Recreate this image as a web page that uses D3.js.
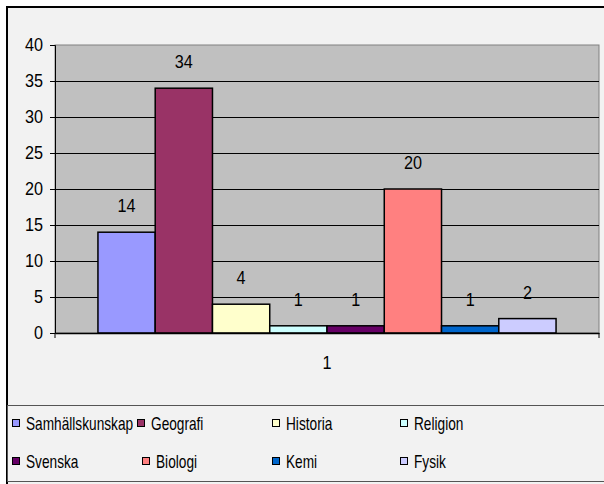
<!DOCTYPE html>
<html>
<head>
<meta charset="utf-8">
<script src="https://cdn.jsdelivr.net/npm/d3@7"></script>
<style>
  body { margin: 0; background: #fff; }
  text { font-family: "Liberation Sans", Arial, sans-serif; fill: #000; }
</style>
</head>
<body>
<div id="chart"></div>
<script>
// data
const subjects = ["Samhällskunskap", "Geografi", "Historia", "Religion", "Svenska", "Biologi", "Kemi", "Fysik"];
const counts = [14, 34, 4, 1, 1, 20, 1, 2];
const colors = ["#9999ff", "#993366", "#ffffcc", "#ccffff", "#660066", "#ff8080", "#0066cc", "#ccccff"];
const categories = ["1"];
const yTicks = [0, 5, 10, 15, 20, 25, 30, 35, 40];

const W = 604, H = 484;
const FONT = "'Liberation Sans', Arial, sans-serif";
const FS = 18;          // font size
const NUM_SX = 0.9;     // horizontal squeeze for numbers
const LEG_SX = 0.76;    // horizontal squeeze for legend text

const svg = d3.select("#chart").append("svg")
    .attr("width", W)
    .attr("height", H);

// chart area background + outer frame
svg.append("rect")
    .attr("x", 7).attr("y", 7)
    .attr("width", W).attr("height", H)
    .attr("fill", "#f2f2f2")
    .attr("stroke", "#000")
    .attr("stroke-width", 2);

// plot area
const plot = {left: 55, top: 45, right: 599, bottom: 333};

const y = d3.scaleLinear()
    .domain([0, 40])
    .range([plot.bottom, plot.top]);

// one category, bars side by side with 150% gap
const x0 = d3.scaleBand()
    .domain(categories)
    .range([plot.left, plot.right]);
const x1 = d3.scaleBand()
    .domain(subjects)
    .range([0, x0.bandwidth()])
    .paddingInner(0)
    .paddingOuter(0.75);

svg.append("rect")
    .attr("x", plot.left).attr("y", plot.top)
    .attr("width", plot.right - plot.left)
    .attr("height", plot.bottom - plot.top)
    .attr("fill", "#c0c0c0")
    .attr("stroke", "#808080")
    .attr("stroke-width", 1);

// gridlines
svg.append("g")
    .selectAll("line")
    .data(yTicks.filter(d => d > 0 && d < 40))
    .join("line")
    .attr("x1", plot.left).attr("x2", plot.right)
    .attr("y1", d => Math.round(y(d)) + 0.5).attr("y2", d => Math.round(y(d)) + 0.5)
    .attr("stroke", "#000")
    .attr("stroke-width", 1);

// y axis
const yAxis = svg.append("g")
    .attr("transform", "translate(" + plot.left + ",0)")
    .call(d3.axisLeft(y).tickValues(yTicks).tickSize(5));
yAxis.select(".domain").attr("stroke", "#000");
yAxis.selectAll(".tick line").attr("stroke", "#000");
yAxis.selectAll("text")
    .attr("x", 0)
    .attr("dy", "0.32em")
    .attr("transform", "translate(-12,0) scale(" + NUM_SX + ",1)")
    .attr("font-size", FS).attr("fill", "#000")
    .style("font-family", FONT);

// bars
const g = svg.append("g")
    .attr("transform", "translate(" + x0(categories[0]) + ",0)");

g.selectAll("rect")
    .data(subjects)
    .join("rect")
    .attr("x", d => x1(d))
    .attr("y", (d, i) => y(counts[i]))
    .attr("width", x1.bandwidth())
    .attr("height", (d, i) => y(0) - y(counts[i]))
    .attr("fill", (d, i) => colors[i])
    .attr("stroke", "#000")
    .attr("stroke-width", 1.5);

// value labels
g.selectAll("text")
    .data(subjects)
    .join("text")
    .attr("transform", (d, i) => "translate(" + (x1(d) + x1.bandwidth() / 2) + "," + (y(counts[i]) - 20) + ") scale(" + NUM_SX + ",1)")
    .attr("text-anchor", "middle")
    .attr("font-size", FS)
    .text((d, i) => counts[i]);

// x axis
const xAxis = svg.append("g")
    .attr("transform", "translate(0," + plot.bottom + ")")
    .call(d3.axisBottom(x0).tickSize(0));
xAxis.select(".domain").attr("stroke", "#000").attr("stroke-width", 1.5);
xAxis.selectAll("text")
    .attr("y", 0).attr("dy", null)
    .attr("transform", "translate(0,36) scale(" + NUM_SX + ",1)")
    .attr("font-size", FS).attr("fill", "#000")
    .style("font-family", FONT);
// category edge ticks
xAxis.selectAll(".edge")
    .data(x0.range())
    .join("line")
    .attr("class", "edge")
    .attr("x1", d => d).attr("x2", d => d)
    .attr("y1", 0).attr("y2", 5)
    .attr("stroke", "#000");

// legend
const legend = svg.append("g");
legend.append("rect")
    .attr("x", 7.5).attr("y", 405.5)
    .attr("width", 620).attr("height", 76)
    .attr("fill", "none")
    .attr("stroke", "#555")
    .attr("stroke-width", 1);

const legendCols = [[12, 137, 272, 400], [12, 142, 272, 400]];
const legendRows = [419, 457];

const item = legend.selectAll("g.item")
    .data(subjects)
    .join("g")
    .attr("class", "item")
    .attr("transform", (d, i) => "translate(" + legendCols[Math.floor(i / 4)][i % 4] + "," + legendRows[Math.floor(i / 4)] + ")");

item.append("rect")
    .attr("x", 0.5).attr("y", 0.5)
    .attr("width", 7).attr("height", 7)
    .attr("fill", (d, i) => colors[i])
    .attr("stroke", "#000")
    .attr("stroke-width", 1);

item.append("text")
    .attr("transform", "translate(14,10.5) scale(" + LEG_SX + ",1)")
    .attr("font-size", FS)
    .text(d => d);
</script>
</body>
</html>
